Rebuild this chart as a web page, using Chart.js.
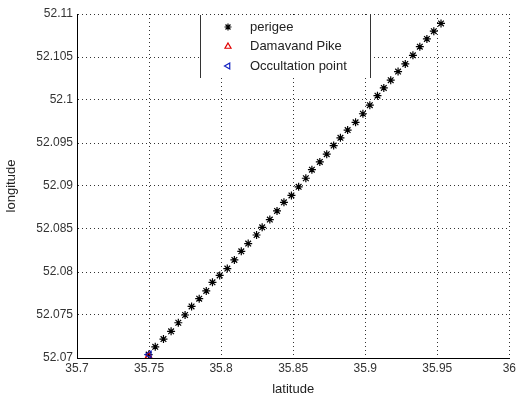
<!DOCTYPE html>
<html>
<head>
<meta charset="utf-8">
<script src="https://cdn.jsdelivr.net/npm/chart.js@4/dist/chart.umd.min.js"></script>
<style>
  body { margin: 0; background: #fff; }
  #wrap { width: 519px; height: 400px; }
</style>
</head>
<body>
<div id="wrap"><canvas id="chart" width="519" height="400"></canvas></div>
<script>
// perigee track (latitude, longitude)
const perigeeLat = [35.7497, 35.7543, 35.7600, 35.7653, 35.7703, 35.7750, 35.7795, 35.7848, 35.7897, 35.7940,
  35.7990, 35.8043, 35.8092, 35.8140, 35.8188, 35.8246, 35.8285, 35.8338, 35.8388, 35.8436,
  35.8488, 35.8538, 35.8588, 35.8630, 35.8685, 35.8733, 35.8781, 35.8828, 35.8878, 35.8933,
  35.8984, 35.9032, 35.9085, 35.9129, 35.9177, 35.9228, 35.9278, 35.9331, 35.9379, 35.9428,
  35.9476, 35.9526];
const perigeeLon = [52.0704, 52.0713, 52.0722, 52.0731, 52.0741, 52.0750, 52.0760, 52.0769, 52.0778, 52.0788,
  52.0796, 52.0804, 52.0814, 52.0824, 52.0833, 52.0843, 52.0852, 52.0861, 52.0871, 52.0881,
  52.0889, 52.0899, 52.0909, 52.0919, 52.0928, 52.0937, 52.0947, 52.0956, 52.0965, 52.0974,
  52.0984, 52.0994, 52.1005, 52.1014, 52.1023, 52.1033, 52.1042, 52.1052, 52.1062, 52.1071,
  52.1080, 52.1089];

const damavandLat = [35.7497];
const damavandLon = [52.0702];
const occultLat = [35.7500];
const occultLon = [52.0704];

const xTicks = [35.7, 35.75, 35.8, 35.85, 35.9, 35.95, 36];
const yTicks = [52.07, 52.075, 52.08, 52.085, 52.09, 52.095, 52.1, 52.105, 52.11];

const toPoints = (xs, ys) => xs.map((x, i) => ({ x: x, y: ys[i] }));
const fmt = v => String(+Number(v).toFixed(3));

// matlab style legend box drawn inside the axes
const legendBox = {
  id: 'legendBox',
  afterDraw(chart) {
    const ctx = chart.ctx;
    const left = 200, right = 370, top = 15, bottom = 78;
    ctx.save();
    ctx.fillStyle = '#fff';
    ctx.fillRect(left, top, right - left, bottom - top);
    ctx.strokeStyle = '#333';
    ctx.lineWidth = 1;
    ctx.beginPath();
    ctx.moveTo(left + 0.5, top); ctx.lineTo(left + 0.5, bottom);
    ctx.moveTo(right + 0.5, top); ctx.lineTo(right + 0.5, bottom);
    ctx.stroke();
    ctx.font = '13px "Liberation Sans", Arial, sans-serif';
    ctx.textBaseline = 'middle';
    chart.data.datasets.forEach((ds, i) => {
      const y = 27 + i * 19.5;
      ctx.strokeStyle = ds.borderColor;
      ctx.fillStyle = '#fff';
      ctx.lineWidth = 1.2;
      Chart.helpers.drawPoint(ctx, {
        pointStyle: ds.pointStyle,
        radius: 3.5,
        rotation: ds.pointRotation || 0,
        borderWidth: 1.2
      }, 228, y);
      ctx.fillStyle = '#222';
      ctx.fillText(ds.label, 250, y);
    });
    ctx.restore();
  }
};

new Chart(document.getElementById('chart'), {
  type: 'scatter',
  data: {
    datasets: [{
      label: 'perigee',
      data: toPoints(perigeeLat, perigeeLon),
      order: 2,
      pointStyle: 'star',
      pointRadius: 4,
      borderColor: '#000',
      backgroundColor: '#000',
      pointBorderWidth: 1.2
    }, {
      label: 'Damavand Pike',
      data: toPoints(damavandLat, damavandLon),
      order: 1,
      pointStyle: 'triangle',
      pointRadius: 4,
      borderColor: '#e00000',
      backgroundColor: 'rgba(0,0,0,0)',
      pointBorderWidth: 1.2
    }, {
      label: 'Occultation point',
      data: toPoints(occultLat, occultLon),
      order: 0,
      pointStyle: 'triangle',
      pointRotation: -90,
      pointRadius: 4,
      borderColor: '#1020c0',
      backgroundColor: 'rgba(0,0,0,0)',
      pointBorderWidth: 1.2
    }]
  },
  options: {
    responsive: false,
    animation: false,
    layout: { padding: { top: 14, right: 7, left: 0, bottom: 0 } },
    plugins: {
      legend: { display: false },
      tooltip: { enabled: false }
    },
    scales: {
      x: {
        type: 'linear',
        min: 35.7,
        max: 36,
        afterBuildTicks: s => { s.ticks = xTicks.map(v => ({ value: v })); },
        afterFit: s => { s.height = 42; },
        ticks: {
          callback: fmt,
          autoSkip: false,
          maxRotation: 0,
          padding: 3,
          color: '#333',
          font: { family: '"Liberation Sans", Arial, sans-serif', size: 12 }
        },
        grid: { color: '#333', lineWidth: 1, drawTicks: false },
        border: { display: true, color: '#000', width: 1, dash: [1, 3] },
        title: {
          display: true,
          text: 'latitude',
          color: '#222',
          padding: { top: 2, bottom: 3 },
          font: { family: '"Liberation Sans", Arial, sans-serif', size: 13 }
        }
      },
      y: {
        type: 'linear',
        min: 52.07,
        max: 52.11,
        afterBuildTicks: s => { s.ticks = yTicks.map(v => ({ value: v })); },
        afterFit: s => { s.width = 77; },
        ticks: {
          callback: fmt,
          autoSkip: false,
          padding: 4,
          color: '#333',
          font: { family: '"Liberation Sans", Arial, sans-serif', size: 12 }
        },
        grid: { color: '#333', lineWidth: 1, drawTicks: false },
        border: { display: true, color: '#000', width: 1, dash: [1, 3] },
        title: {
          display: true,
          text: 'longitude',
          color: '#222',
          padding: { top: 4, bottom: 2 },
          font: { family: '"Liberation Sans", Arial, sans-serif', size: 13 }
        }
      }
    }
  },
  plugins: [legendBox]
});
</script>
</body>
</html>
